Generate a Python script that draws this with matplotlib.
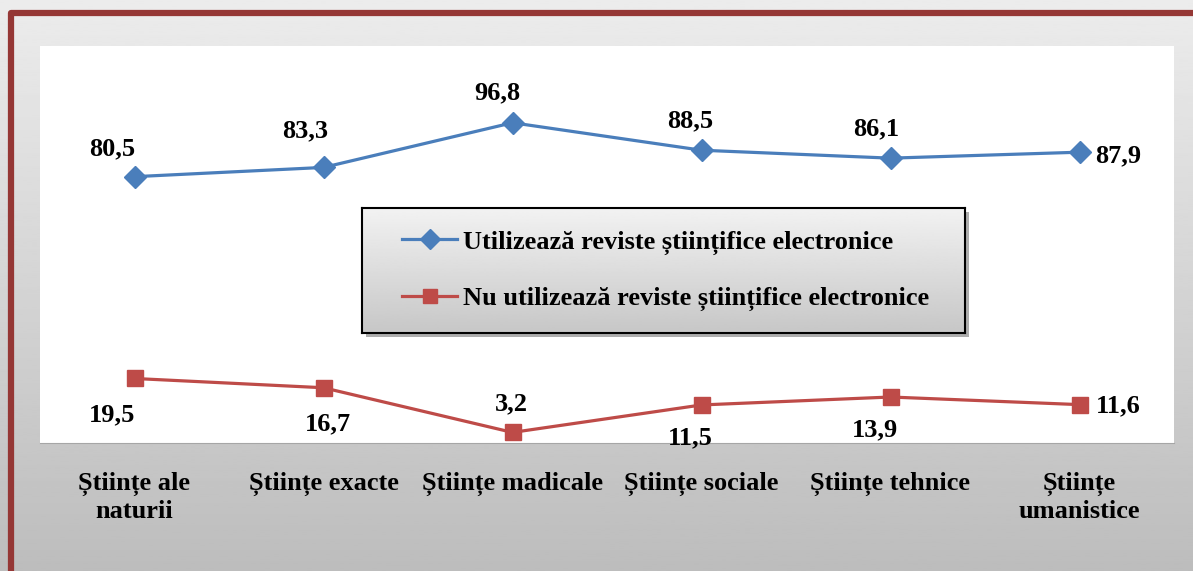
import numpy as np
import matplotlib
matplotlib.use("Agg")
from matplotlib import pyplot as plt
from matplotlib.lines import Line2D
from matplotlib.patches import Rectangle

## data
categories = ["Științe ale\nnaturii", "Științe exacte", "Științe madicale",
              "Științe sociale", "Științe tehnice", "Științe\numanistice"]
used = [80.5, 83.3, 96.8, 88.5, 86.1, 87.9]
not_used = [19.5, 16.7, 3.2, 11.5, 13.9, 11.6]
label_used = "Utilizează reviste științifice electronice"
label_not = "Nu utilizează reviste științifice electronice"

## label offsets in pixels (dx, dy)
off_used = [(-22, 28), (-18, 37), (-15, 30), (-11, 29), (-14, 29), (39, -4)]
off_not = [(-22, -36), (4, -36), (-1, 29), (-11, -33), (-15, -33), (39, -1)]

BLUE = "#4a7ebb"
RED = "#be4b48"
FS = 19
plt.rcParams["font.family"] = ["Liberation Serif", "DejaVu Serif"]
plt.rcParams["font.weight"] = "bold"

W, H = 1193, 571
fig = plt.figure(figsize=(W / 100, H / 100), dpi=100)

## gray gradient background
bg = fig.add_axes([0, 0, 1, 1], zorder=-1)
grad = np.linspace(0.925, 0.74, 256).reshape(-1, 1)
bg.imshow(grad, cmap="gray", vmin=0, vmax=1, aspect="auto", extent=[0, 1, 0, 1])
bg.set_axis_off()

## plot area
ax = fig.add_axes([40 / W, 1 - 443 / H, (1174 - 40) / W, (443 - 46) / H], zorder=0)
ax.set_facecolor("white")
x = np.arange(len(categories))
l1, = ax.plot(x, used, color=BLUE, lw=2.3, marker="D", ms=11, label=label_used)
l2, = ax.plot(x, not_used, color=RED, lw=2.3, marker="s", ms=11.5, label=label_not)
ax.set_xlim(-0.5, len(categories) - 0.5)
ax.set_ylim(0, 120)
ax.set_yticks([])
ax.set_xticks(x)
ax.set_xticklabels(categories, fontsize=FS, fontweight="bold", linespacing=1.2)
ax.tick_params(axis="x", length=0, pad=21)
for s in ["top", "left", "right"]:
    ax.spines[s].set_visible(False)
ax.spines["bottom"].set_color("#a6a6a6")

def fmt(v):
    return ("%.1f" % v).replace(".", ",")

for xi, v, (dx, dy) in zip(x, used, off_used):
    ax.annotate(fmt(v), (xi, v), xytext=(dx, dy), textcoords="offset pixels",
                ha="center", va="center", fontsize=FS, fontweight="bold")
for xi, v, (dx, dy) in zip(x, not_used, off_not):
    ax.annotate(fmt(v), (xi, v), xytext=(dx, dy), textcoords="offset pixels",
                ha="center", va="center", fontsize=FS, fontweight="bold",
                annotation_clip=False)

## legend box with gradient and shadow
lx0, ly0, lx1, ly1 = 362, 208, 965, 333
fig.patches.append(Rectangle(((lx0 + 4) / W, 1 - (ly1 + 4) / H), (lx1 - lx0) / W,
                             (ly1 - ly0) / H, transform=fig.transFigure,
                             facecolor="#777777", alpha=0.6, edgecolor="none",
                             zorder=0.5))
lax = fig.add_axes([lx0 / W, 1 - ly1 / H, (lx1 - lx0) / W, (ly1 - ly0) / H], zorder=1)
lgrad = np.linspace(0.95, 0.78, 256).reshape(-1, 1)
lax.imshow(lgrad, cmap="gray", vmin=0, vmax=1, aspect="auto", extent=[0, 1, 0, 1])
lax.set_xticks([])
lax.set_yticks([])
for s in lax.spines.values():
    s.set_color("black")
    s.set_linewidth(1.5)
lax.legend(handles=[l1, l2], loc="center left", bbox_to_anchor=(40 / (lx1 - lx0), 0.5),
           frameon=False, borderpad=0, borderaxespad=0, handlelength=2.1,
           handletextpad=0.2, labelspacing=1.2, markerscale=0.9,
           prop={"family": "Liberation Serif", "weight": "bold", "size": FS})

## dark red frame on top and left
fig.add_artist(Line2D([11 / W, 11 / W, 1.05], [-0.05, 1 - 13 / H, 1 - 13 / H],
                      transform=fig.transFigure, color="#953735", lw=4.5,
                      solid_joinstyle="round", zorder=3))

fig.savefig("out.png", dpi=100)
